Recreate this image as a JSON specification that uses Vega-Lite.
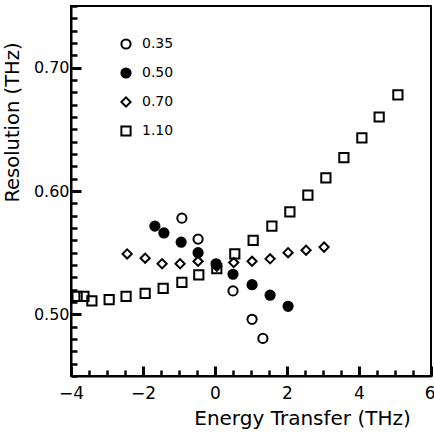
{
  "$schema": "https://vega.github.io/schema/vega-lite/v6.json",
  "width": 360,
  "height": 370,
  "autosize": {"type": "none"},
  "padding": {"left": 71, "top": 6, "right": 3, "bottom": 61},
  "background": "white",
  "config": {
    "view": {"stroke": "black", "strokeWidth": 2},
    "font": "DejaVu Sans",
    "axis": {"grid": false}
  },
  "datasets": {
    "pts": [
      {"x": -0.92, "res": 0.578, "q": "0.35"},
      {"x": -0.47, "res": 0.561, "q": "0.35"},
      {"x": 0.5, "res": 0.519, "q": "0.35"},
      {"x": 1.03, "res": 0.496, "q": "0.35"},
      {"x": 1.33, "res": 0.4805, "q": "0.35"},
      {"x": -1.67, "res": 0.5715, "q": "0.50"},
      {"x": -1.42, "res": 0.566, "q": "0.50"},
      {"x": -0.94, "res": 0.5585, "q": "0.50"},
      {"x": -0.47, "res": 0.55, "q": "0.50"},
      {"x": 0.03, "res": 0.541, "q": "0.50"},
      {"x": 0.5, "res": 0.5325, "q": "0.50"},
      {"x": 1.03, "res": 0.524, "q": "0.50"},
      {"x": 1.53, "res": 0.5155, "q": "0.50"},
      {"x": 2.03, "res": 0.5065, "q": "0.50"},
      {"x": -2.44, "res": 0.549, "q": "0.70"},
      {"x": -1.94, "res": 0.5455, "q": "0.70"},
      {"x": -1.47, "res": 0.541, "q": "0.70"},
      {"x": -0.97, "res": 0.541, "q": "0.70"},
      {"x": -0.47, "res": 0.543, "q": "0.70"},
      {"x": 0.05, "res": 0.539, "q": "0.70"},
      {"x": 0.52, "res": 0.542, "q": "0.70"},
      {"x": 1.03, "res": 0.543, "q": "0.70"},
      {"x": 1.53, "res": 0.545, "q": "0.70"},
      {"x": 2.03, "res": 0.55, "q": "0.70"},
      {"x": 2.53, "res": 0.552, "q": "0.70"},
      {"x": 3.03, "res": 0.5545, "q": "0.70"},
      {"x": -3.83, "res": 0.5146, "q": "1.10"},
      {"x": -3.64, "res": 0.5146, "q": "1.10"},
      {"x": -3.42, "res": 0.511, "q": "1.10"},
      {"x": -2.94, "res": 0.512, "q": "1.10"},
      {"x": -2.47, "res": 0.5146, "q": "1.10"},
      {"x": -1.94, "res": 0.517, "q": "1.10"},
      {"x": -1.44, "res": 0.521, "q": "1.10"},
      {"x": -0.92, "res": 0.526, "q": "1.10"},
      {"x": -0.45, "res": 0.532, "q": "1.10"},
      {"x": 0.05, "res": 0.537, "q": "1.10"},
      {"x": 0.55, "res": 0.549, "q": "1.10"},
      {"x": 1.06, "res": 0.56, "q": "1.10"},
      {"x": 1.58, "res": 0.5715, "q": "1.10"},
      {"x": 2.08, "res": 0.583, "q": "1.10"},
      {"x": 2.58, "res": 0.5967, "q": "1.10"},
      {"x": 3.08, "res": 0.6106, "q": "1.10"},
      {"x": 3.58, "res": 0.627, "q": "1.10"},
      {"x": 4.08, "res": 0.643, "q": "1.10"},
      {"x": 4.56, "res": 0.66, "q": "1.10"},
      {"x": 5.08, "res": 0.678, "q": "1.10"}
    ]
  },
  "resolve": {"axis": {"x": "independent", "y": "independent"}},
  "layer": [
    {
      "data": {"name": "pts"},
      "transform": [{"filter": "datum.q == '0.70' || datum.q == '1.10'"}],
      "mark": {"type": "point", "stroke": "black", "strokeWidth": 2, "opacity": 1},
      "encoding": {
        "x": {"field": "x", "type": "quantitative", "scale": {"domain": [-4, 6], "nice": false, "zero": false},
          "axis": {"orient": "bottom", "values": [-4, -2, 0, 2, 4, 6], "tickSize": -10, "tickColor": "#000000", "tickWidth": 3, "domainColor": "#000000", "domainWidth": 2, "labelColor": "#000000", "labelPadding": 19, "labelFontSize": 17, "labelFlush": false, "labelAlign": {"condition": {"test": "datum.value == 6", "value": "right"}, "value": "center"}, "labelOffset": {"condition": {"test": "datum.value == 6", "value": 4}, "value": 0}, "title": "Energy Transfer (THz)", "titleColor": "#000000", "titleFontWeight": "normal", "titleFontSize": 20, "titleX": 231, "titleY": 42, "titleAnchor": null, "titleAlign": "center", "titleBaseline": "middle"}},
        "y": {"field": "res", "type": "quantitative", "scale": {"domain": [0.45, 0.75], "nice": false, "zero": false},
          "axis": {"orient": "left", "values": [0.5, 0.6, 0.7], "format": ".2f", "tickSize": -10, "tickColor": "#000000", "tickWidth": 3, "domainColor": "#000000", "domainWidth": 2, "labelColor": "#000000", "labelPadding": 12, "labelFontSize": 16, "title": "Resolution (THz)", "titleColor": "#000000", "titleFontWeight": "normal", "titleFontSize": 19.5, "titleX": -59, "titleY": 116, "titleAngle": -90, "titleAlign": "center", "titleBaseline": "middle", "titleAnchor": null}},
        "shape": {"field": "q", "type": "nominal", "scale": {"domain": ["0.35", "0.50", "0.70", "1.10"], "range": ["circle", "circle", "diamond", "square"]},
          "legend": {"title": null, "orient": "none", "legendX": 48, "legendY": 31, "labelFontSize": 14, "labelColor": "black", "labelOffset": 9, "rowPadding": 11, "symbolStrokeColor": "black", "symbolStrokeWidth": 2, "symbolOpacity": 1}},
        "fill": {"field": "q", "type": "nominal", "scale": {"domain": ["0.35", "0.50", "0.70", "1.10"], "range": ["transparent", "black", "transparent", "transparent"]}},
        "size": {"field": "q", "type": "nominal", "scale": {"domain": ["0.35", "0.50", "0.70", "1.10"], "range": [85, 85, 220, 120]}}
      }
    },
    {
      "data": {"name": "pts"},
      "transform": [{"filter": "datum.q == '0.35' || datum.q == '0.50'"}],
      "mark": {"type": "point", "stroke": "black", "strokeWidth": 2, "opacity": 1},
      "encoding": {
        "x": {"field": "x", "type": "quantitative",
          "axis": {"orient": "bottom", "values": [-4, -3.5, -3, -2.5, -2, -1.5, -1, -0.5, 0, 0.5, 1, 1.5, 2, 2.5, 3, 3.5, 4, 4.5, 5, 5.5, 6], "tickSize": -6, "tickColor": "#000000", "tickWidth": 2.5, "labels": false, "domain": false, "title": null}},
        "y": {"field": "res", "type": "quantitative",
          "axis": {"orient": "left", "values": [0.45, 0.46, 0.47, 0.48, 0.49, 0.5, 0.51, 0.52, 0.53, 0.54, 0.55, 0.56, 0.57, 0.58, 0.59, 0.6, 0.61, 0.62, 0.63, 0.64, 0.65, 0.66, 0.67, 0.68, 0.69, 0.7, 0.71, 0.72, 0.73, 0.74, 0.75], "tickSize": -6, "tickColor": "#000000", "tickWidth": 2.5, "labels": false, "domain": false, "title": null}},
        "shape": {"field": "q", "type": "nominal"},
        "fill": {"field": "q", "type": "nominal"},
        "size": {"field": "q", "type": "nominal"}
      }
    }
  ]
}
